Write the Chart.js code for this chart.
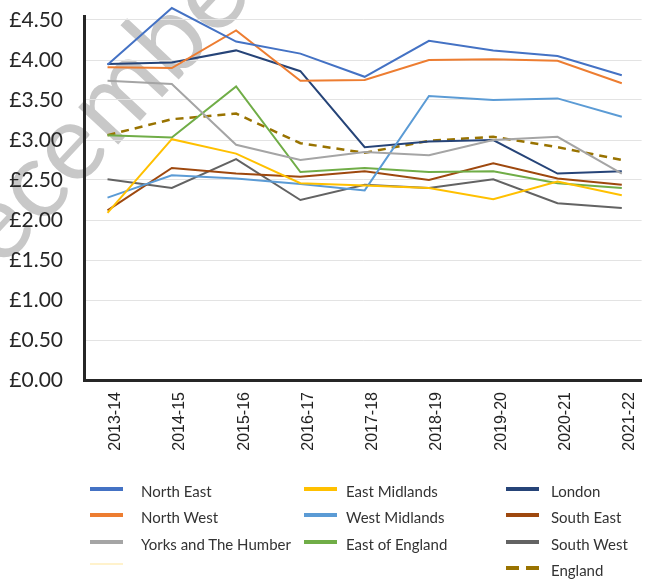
<!DOCTYPE html>
<html>
<head>
<meta charset="utf-8">
<script src="https://cdn.jsdelivr.net/npm/chart.js@4/dist/chart.umd.min.js"></script>
<style>
  html, body { margin: 0; padding: 0; background: #fff; }
  body { width: 653px; height: 579px; position: relative; overflow: hidden; font-family: Lato, "Open Sans", sans-serif; }
  #stamp {
    position: absolute; left: -133px; top: 257px;
    font-family: Lato, sans-serif; font-size: 108px; color: #c8c8c8;
    transform: rotate(-47deg); transform-origin: left top; white-space: nowrap;
    z-index: 0;
  }
  #wrap { position: absolute; left: 0; top: 0; width: 653px; height: 470px; z-index: 1; }
  #legend { position: absolute; left: 0; top: 0; width: 653px; height: 579px; z-index: 1; pointer-events: none; }
  .item { position: absolute; height: 20px; line-height: 20px; font-size: 15px; color: #333; white-space: nowrap; }
  .item .swatch { position: absolute; left: 0; top: 6px; width: 33px; height: 0; border-top: 4px solid; }
  .item span { position: absolute; top: 0; }
</style>
</head>
<body>
<div id="stamp">December</div>
<div id="wrap"><canvas id="chart"></canvas></div>
<div id="legend"></div>
<script>
const years = ['2013-14', '2014-15', '2015-16', '2016-17', '2017-18', '2018-19', '2019-20', '2020-21', '2021-22'];

const northEast      = [3.94, 4.65, 4.23, 4.08, 3.79, 4.24, 4.12, 4.05, 3.81];
const northWest      = [3.91, 3.90, 4.37, 3.74, 3.75, 4.00, 4.01, 3.99, 3.71];
const yorksHumber    = [3.74, 3.70, 2.94, 2.75, 2.85, 2.81, 3.00, 3.04, 2.58];
const eastMidlands   = [2.09, 3.01, 2.83, 2.46, 2.43, 2.40, 2.26, 2.48, 2.31];
const westMidlands   = [2.28, 2.56, 2.52, 2.45, 2.37, 3.55, 3.50, 3.52, 3.29];
const eastOfEngland  = [3.06, 3.03, 3.67, 2.60, 2.65, 2.60, 2.61, 2.46, 2.40];
const london         = [3.95, 3.97, 4.12, 3.86, 2.91, 2.98, 3.00, 2.58, 2.61];
const southEast      = [2.12, 2.65, 2.58, 2.54, 2.61, 2.50, 2.71, 2.52, 2.44];
const southWest      = [2.51, 2.40, 2.76, 2.25, 2.44, 2.40, 2.51, 2.21, 2.15];
const england        = [3.06, 3.26, 3.33, 2.96, 2.84, 2.99, 3.04, 2.91, 2.75];

const yTicks = [0, 0.5, 1, 1.5, 2, 2.5, 3, 3.5, 4, 4.5];

// name, values, colour, dashed, legend column/row
const series = [
  ['North East', northEast, '#4472C4', false, 0, 0],
  ['North West', northWest, '#ED7D31', false, 0, 1],
  ['Yorks and The Humber', yorksHumber, '#A5A5A5', false, 0, 2],
  ['East Midlands', eastMidlands, '#FFC000', false, 1, 0],
  ['West Midlands', westMidlands, '#5B9BD5', false, 1, 1],
  ['East of England', eastOfEngland, '#70AD47', false, 1, 2],
  ['London', london, '#264478', false, 2, 0],
  ['South East', southEast, '#9E480E', false, 2, 1],
  ['South West', southWest, '#636363', false, 2, 2],
  ['England', england, '#997300', true, 2, 3]
];

const datasets = series.map(([name, values, colour, dashed]) => ({
  label: name,
  data: values.map((v, i) => ({ x: i, y: v })),
  borderColor: colour,
  backgroundColor: colour,
  borderWidth: dashed ? 2.5 : 2,
  borderDash: dashed ? [8, 6] : [],
  pointRadius: 0,
  tension: 0,
  clip: false
}));

new Chart(document.getElementById('chart'), {
  type: 'line',
  data: { datasets },
  options: {
    responsive: true,
    maintainAspectRatio: false,
    animation: false,
    layout: { padding: { top: 16, right: 0, bottom: 0, left: 0 } },
    plugins: { legend: { display: false }, tooltip: { enabled: false } },
    scales: {
      x: {
        type: 'linear',
        min: -0.366,
        max: 8.308,
        afterBuildTicks: scale => { scale.ticks = years.map((_, i) => ({ value: i })); },
        afterFit: scale => { scale.height = 90; },
        grid: { display: false, drawTicks: false },
        border: { color: '#262626', width: 3 },
        ticks: {
          autoSkip: false,
          minRotation: 90,
          maxRotation: 90,
          padding: 12,
          labelOffset: 8,
          color: '#222',
          font: { family: '"Liberation Sans", Arial, sans-serif', size: 16 },
          callback: v => years[v]
        }
      },
      y: {
        min: 0,
        max: 4.55,
        afterBuildTicks: scale => { scale.ticks = yTicks.map(v => ({ value: v })); },
        afterFit: scale => { scale.width = 84; },
        // hidden tick marks keep the labels clear of the axis line
        grid: { color: '#e3e3e3', lineWidth: 1, drawTicks: true, tickLength: 20, tickColor: 'rgba(0,0,0,0)' },
        border: { color: '#262626', width: 3 },
        ticks: {
          padding: 1,
          color: '#262626',
          font: { family: 'Lato, sans-serif', size: 21 },
          callback: v => '£' + v.toFixed(2)
        }
      }
    }
  }
});

// legend in three columns, filled top to bottom
const lineX = [90, 304, 506];
const textX = [141, 346, 551];
const rowY = [481, 507, 534, 560];
const legend = document.getElementById('legend');
series.forEach(([name, , colour, dashed, col, row]) => {
  const item = document.createElement('div');
  item.className = 'item';
  item.style.left = lineX[col] + 'px';
  item.style.top = rowY[row] + 'px';
  const swatch = dashed
    ? `<div class="swatch" style="border-color:${colour};width:13px"></div><div class="swatch" style="border-color:${colour};left:20px;width:13px"></div>`
    : `<div class="swatch" style="border-color:${colour}"></div>`;
  item.innerHTML = `${swatch}<span style="left:${textX[col] - lineX[col]}px">${name}</span>`;
  legend.appendChild(item);
});
// pale empty entry under the first column
const blank = document.createElement('div');
blank.className = 'item';
blank.style.left = lineX[0] + 'px';
blank.style.top = (rowY[3] - 3) + 'px';
blank.innerHTML = '<div class="swatch" style="border-top-width:2px;border-color:#FFF2CC"></div>';
legend.appendChild(blank);
</script>
</body>
</html>
